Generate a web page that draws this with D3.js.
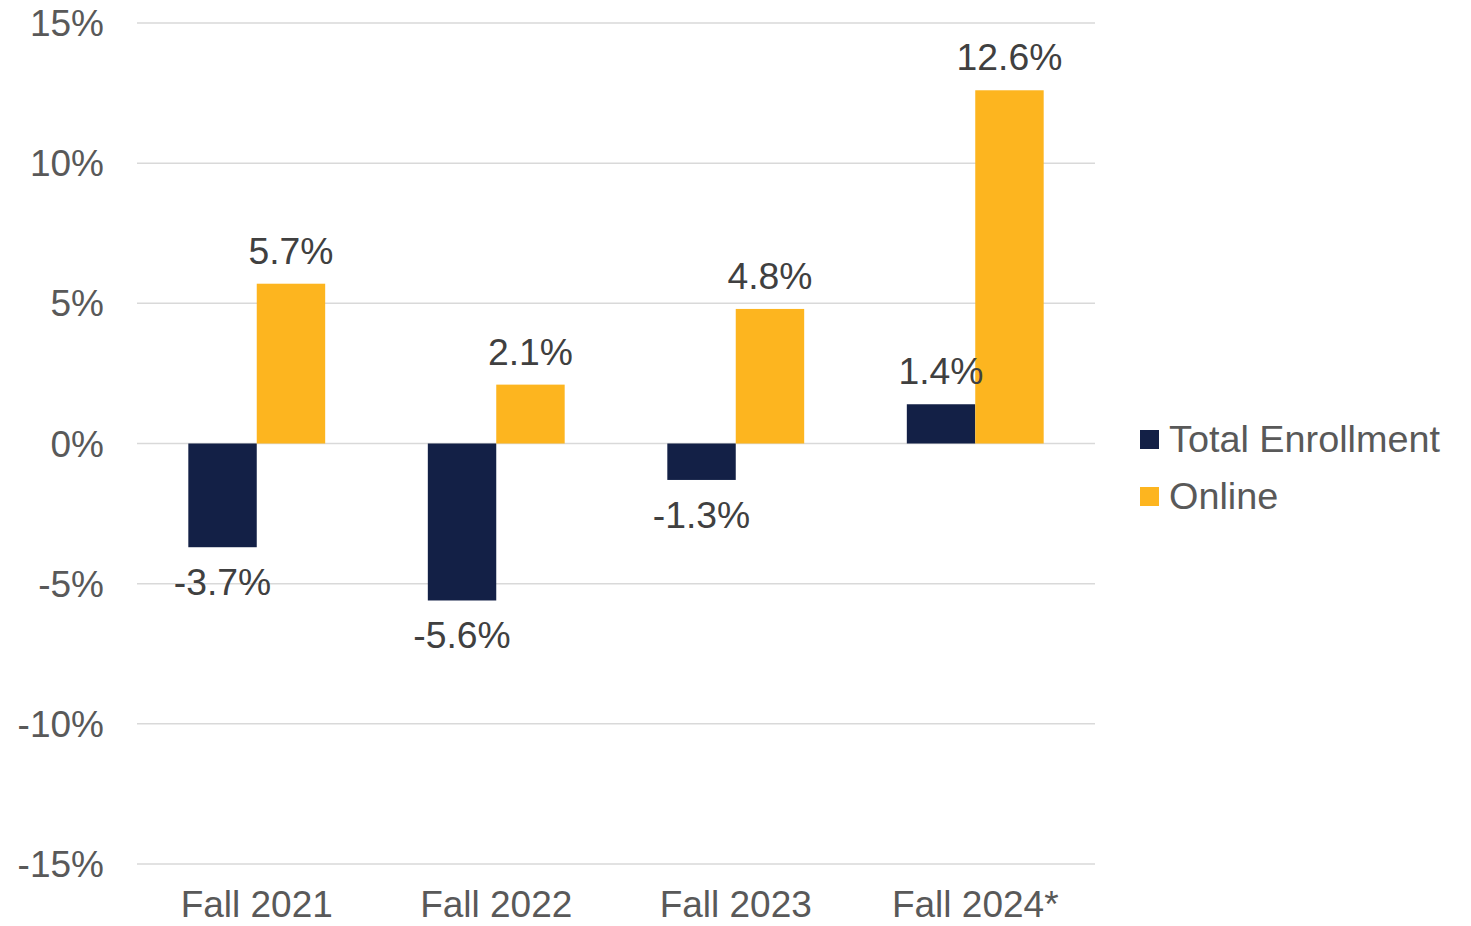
<!DOCTYPE html>
<html>
<head>
<meta charset="utf-8">
<script src="https://cdn.jsdelivr.net/npm/d3@7"></script>
<style>
  body { margin: 0; background: #fff; overflow: hidden; }
  text { font-family: "Liberation Sans", Arial, sans-serif; }
  .tick-label { fill: #595959; font-size: 37px; }
  .data-label { fill: #404040; font-size: 37.3px; }
  .legend-label { fill: #595959; font-size: 37.8px; }
</style>
</head>
<body>
<div id="chart"></div>
<script>
// data
var categories = ["Fall 2021", "Fall 2022", "Fall 2023", "Fall 2024*"];
var seriesNames = ["Total Enrollment", "Online"];
var totalEnrollment = [-3.7, -5.6, -1.3, 1.4];
var online = [5.7, 2.1, 4.8, 12.6];
var yTicks = [-15, -10, -5, 0, 5, 10, 15];
var colors = ["#132046", "#FDB51F"];

var rows = categories.map(function(c, i){
  return { cat: c, values: [
    { key: seriesNames[0], value: totalEnrollment[i] },
    { key: seriesNames[1], value: online[i] }
  ]};
});

var width = 1471, height = 926;
var margin = { top: 23, left: 137, right: 376, bottom: 62 };

var svg = d3.select("#chart").append("svg")
  .attr("width", width)
  .attr("height", height)
  .style("display", "block");

var x0 = d3.scaleBand()
  .domain(categories)
  .range([margin.left, width - margin.right])
  .padding(0);

var x1 = d3.scaleBand()
  .domain(seriesNames)
  .range([0, x0.bandwidth()])
  .paddingInner(0)
  .paddingOuter(0.75);

var y = d3.scaleLinear()
  .domain([-15, 15])
  .range([height - margin.bottom, margin.top]);

var color = d3.scaleOrdinal().domain(seriesNames).range(colors);

// gridlines
svg.append("g")
  .selectAll("line")
  .data(yTicks)
  .enter()
  .append("line")
  .attr("x1", margin.left)
  .attr("x2", width - margin.right)
  .attr("y1", function(d){ return y(d); })
  .attr("y2", function(d){ return y(d); })
  .style("stroke", "#d9d9d9")
  .style("stroke-width", 1.5);

// y tick labels
svg.append("g")
  .selectAll("text")
  .data(yTicks)
  .enter()
  .append("text")
  .attr("class", "tick-label")
  .attr("x", 104)
  .attr("y", function(d){ return y(d) + 13; })
  .attr("text-anchor", "end")
  .text(function(d){ return d + "%"; });

// x category labels
svg.append("g")
  .selectAll("text")
  .data(categories)
  .enter()
  .append("text")
  .attr("class", "tick-label")
  .attr("x", function(d){ return x0(d) + x0.bandwidth() / 2; })
  .attr("y", 917)
  .attr("text-anchor", "middle")
  .text(function(d){ return d; });

// bars
var groups = svg.append("g")
  .selectAll("g")
  .data(rows)
  .enter()
  .append("g")
  .attr("transform", function(d){ return "translate(" + x0(d.cat) + ",0)"; });

groups.selectAll("rect")
  .data(function(d){ return d.values; })
  .enter()
  .append("rect")
  .attr("x", function(d){ return x1(d.key); })
  .attr("width", x1.bandwidth())
  .attr("y", function(d){ return y(Math.max(0, d.value)); })
  .attr("height", function(d){ return Math.abs(y(d.value) - y(0)); })
  .style("fill", function(d){ return color(d.key); });

groups.selectAll("text")
  .data(function(d){ return d.values; })
  .enter()
  .append("text")
  .attr("class", "data-label")
  .attr("x", function(d){ return x1(d.key) + x1.bandwidth() / 2; })
  .attr("y", function(d){
    return d.value >= 0 ? y(d.value) - 20 : y(d.value) + 48;
  })
  .attr("text-anchor", "middle")
  .text(function(d){ return d.value.toFixed(1) + "%"; });

// legend
var legend = svg.append("g")
  .selectAll("g")
  .data(seriesNames)
  .enter()
  .append("g")
  .attr("transform", function(d, i){ return "translate(1140," + (430 + i * 57) + ")"; });

legend.append("rect")
  .attr("width", 19)
  .attr("height", 19)
  .style("fill", function(d){ return color(d); });

legend.append("text")
  .attr("class", "legend-label")
  .attr("x", 29)
  .attr("y", 22)
  .text(function(d){ return d; });
</script>
</body>
</html>
